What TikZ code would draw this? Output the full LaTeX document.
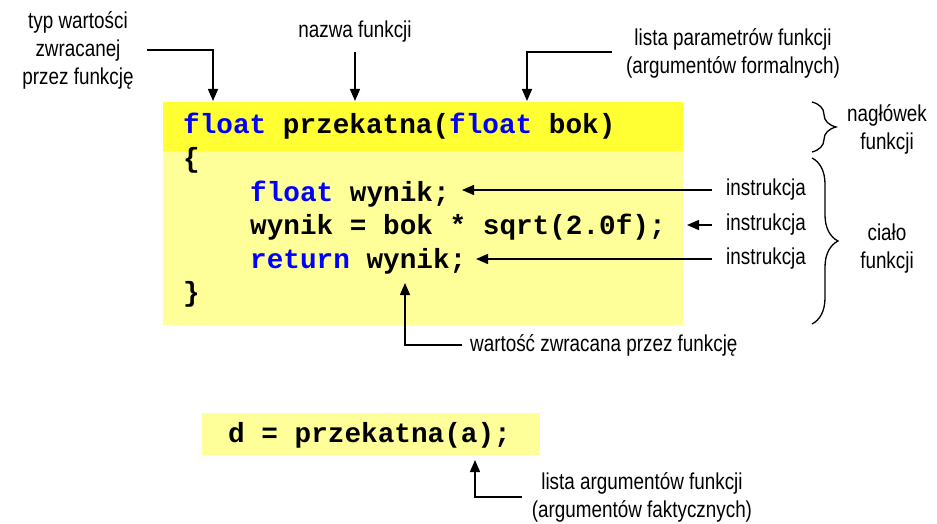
\documentclass[tikz,border=0pt]{standalone}
\usepackage{fontspec}
\setmainfont{Liberation Sans}
\newfontfamily\labfont[FakeStretch=0.82]{Liberation Sans}
\newfontfamily\codefont{Liberation Mono}
\usetikzlibrary{arrows.meta,decorations.pathreplacing}
\definecolor{hdr}{RGB}{255,255,51}
\definecolor{bdy}{RGB}{255,255,153}
\definecolor{kw}{RGB}{0,0,255}
\begin{document}
\begin{tikzpicture}[x=1pt,y=-1pt,
  lab/.style={font=\labfont\fontsize{23}{28}\selectfont, inner sep=0pt, align=center},
  code/.style={font=\codefont\bfseries\fontsize{27.7}{33}\selectfont, inner sep=0pt, anchor=base west},
  arr/.style={line width=1.5pt, -{Triangle[length=12pt,width=10pt]}},
  cbrace/.style={line width=1.3pt, decorate, decoration={brace, amplitude=#1}}]
\useasboundingbox (0,0) rectangle (937,524);
% boxes
\fill[bdy] (163,151) rectangle (683,325);
\fill[hdr] (163,102) rectangle (683,151);
\fill[bdy] (202,413) rectangle (540,455);
% code
\node[code] (h) at (183,134) {\textcolor{kw}{float} przekatna(\textcolor{kw}{float} bok)};
\node[code] (l0) at (183,167.5) {\{};
\node[code] (l1) at (250,201) {\textcolor{kw}{float} wynik;};
\node[code] (l2) at (250,234.5) {wynik = bok * sqrt(2.0f);};
\node[code] (l3) at (250,268) {\textcolor{kw}{return} wynik;};
\node[code] (l4) at (183,301.5) {\}};
\node[code] (call) at (228,442) {d = przekatna(a);};
% labels
\node[lab] (typ) at (78,50) {typ wartości\\zwracanej\\przez funkcję};
\node[lab] (naz) at (355,32) {nazwa funkcji};
\node[lab] (lpar) at (733,53) {lista parametrów funkcji\\(argumentów formalnych)};
\node[lab] (nagl) at (887,129) {nagłówek\\funkcji};
\node[lab] (cial) at (887,249) {ciało\\funkcji};
\node[lab,anchor=west] (i1) at (726,190) {instrukcja};
\node[lab,anchor=west] (i2) at (726,225) {instrukcja};
\node[lab,anchor=west] (i3) at (726,259) {instrukcja};
\node[lab,anchor=west] (wart) at (470,345) {wartość zwracana przez funkcję};
\node[lab] (larg) at (642,497) {lista argumentów funkcji\\(argumentów faktycznych)};
% connector coordinates
\coordinate (typS) at (147,50);
\coordinate (typT) at (213,101);
\coordinate (nazS) at (355,52);
\coordinate (nazT) at (355,101);
\coordinate (lparS) at (612,52);
\coordinate (lparT) at (527,101);
\coordinate (i1S) at (712,190);
\coordinate (i1T) at (462,190);
\coordinate (i2S) at (712,225);
\coordinate (i2T) at (687,225);
\coordinate (i3S) at (712,259);
\coordinate (i3T) at (476,259);
\coordinate (wartS) at (462,345);
\coordinate (wartT) at (405,283);
\coordinate (largS) at (522,497);
\coordinate (largT) at (475,460);
\draw[arr] (typS) -| (typT);
\draw[arr] (nazS) -- (nazT);
\draw[arr] (lparS) -| (lparT);
\draw[arr] (i1S) -- (i1T);
\draw[arr] (i2S) -- (i2T);
\draw[arr] (i3S) -- (i3T);
\draw[arr] (wartS) -| (wartT);
\draw[arr] (largS) -| (largT);
% braces
\coordinate (b1a) at (812,102);
\coordinate (b1b) at (812,152);
\coordinate (b2a) at (812,158);
\coordinate (b2b) at (812,324);
\draw[cbrace=24pt] (b1a) -- (b1b);
\draw[cbrace=26pt] (b2a) -- (b2b);
\end{tikzpicture}
\end{document}
